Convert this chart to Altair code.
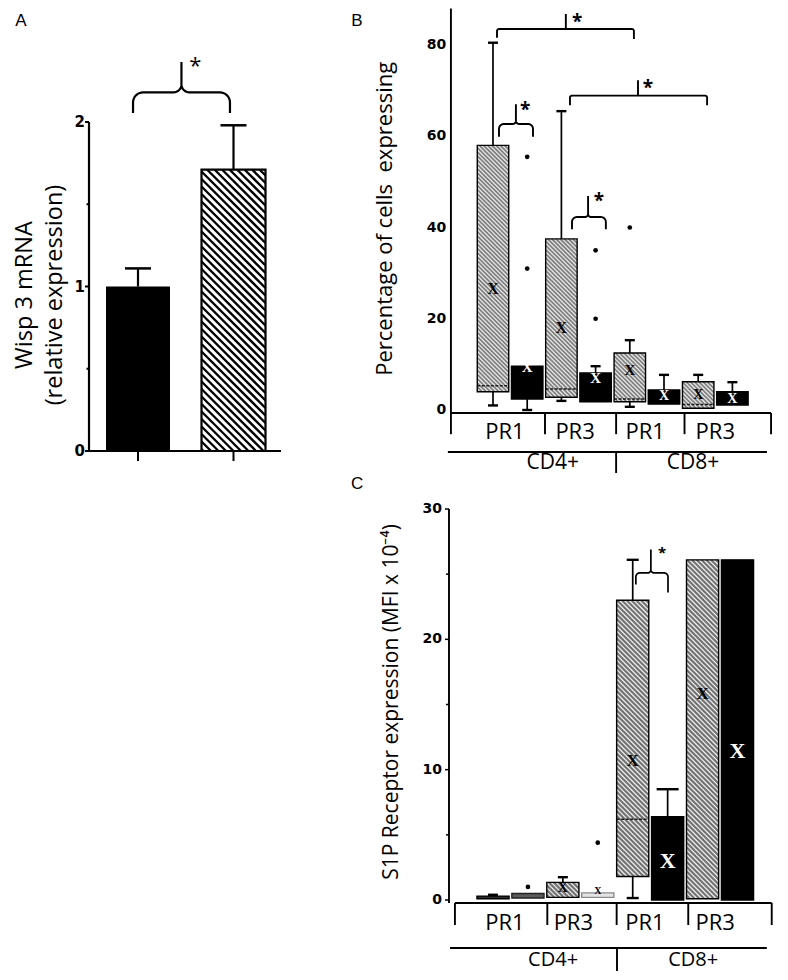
import math
import altair as alt
import pandas as pd

# ------------------------------------------------------------------ data
# Panel A : Wisp 3 mRNA, relative expression (mean + error)
A_BARS = ["solid", "hatched"]
A_VALUE = [1.0, 1.71]
A_ERROR = [0.11, 0.27]
A_TICKS = [0, 1, 2]

# Panels B and C : eight boxes = 4 groups (PR1/PR3 x CD4+/CD8+) x 2 conditions
SUBSETS = ["PR1", "PR3", "PR1", "PR3"]
CELLS = ["CD4+", "CD8+"]

B_TICKS = [0, 20, 40, 60, 80]
B_Q1 = [4.0, 2.4, 2.8, 1.8, 1.8, 1.3, 0.4, 1.1]
B_MEDIAN = [5.3, None, 4.6, None, 2.4, None, 1.2, None]
B_Q3 = [58.0, 9.6, 37.5, 8.1, 12.5, 4.4, 6.2, 4.0]
B_LOW = [1.0, 0.0, 2.0, 1.8, 0.7, 1.3, 0.4, 1.1]
B_HIGH = [80.5, 9.6, 65.5, 9.6, 15.3, 7.7, 7.7, 6.1]
B_MEAN = [26.5, 9.4, 18.0, 7.0, 8.8, 3.0, 3.2, 2.5]
B_OUT_BOX = [1, 1, 3, 3, 4]
B_OUT_VAL = [55.5, 31.0, 35.0, 20.0, 40.0]

C_TICKS = [0, 10, 20, 30]
C_Q1 = [0.1, 0.15, 0.2, 0.2, 1.8, 0.0, 0.1, 0.0]
C_MEDIAN = [None, None, None, None, 6.2, None, None, None]
C_Q3 = [0.3, 0.5, 1.35, 0.55, 23.0, 6.4, 26.1, 26.1]
C_LOW = [0.1, 0.15, 0.2, 0.2, 0.15, 0.0, 0.1, 0.0]
C_HIGH = [0.4, 0.5, 1.75, 0.55, 26.1, 8.5, 26.1, 26.1]
C_MEAN = [0.25, 0.4, 0.9, 0.7, 10.7, 3.0, 15.8, 11.4]
C_OUT_BOX = [1, 3]
C_OUT_VAL = [1.0, 4.4]

# ------------------------------------------------------------------ styles
FONT = "Open Sans"
TICKFONT = "DejaVu Sans"
SERIF = "Liberation Serif"
B_KINDS = ["hatched", "solid"] * 4
C_KINDS = ["dark", "mid", "hatched", "light", "hatched", "solid", "hatched", "solid"]
B_MEAN_SIZE = [16, 15, 16, 15, 15, 14, 14, 14]
C_MEAN_SIZE = [0, 0, 14, 10, 17, 22, 17, 22]
B_CAP = [5] * 8
C_CAP = [5, 5, 5, 5, 6, 11, 6, 6]


# ------------------------------------------------------------------ panel frames (scales)
class Frame:
    def __init__(self, xd, xr, yd, yr):
        self.xd, self.xr, self.yd, self.yr = xd, xr, yd, yr

    def px(self, u):
        return self.xr[0] + (u - self.xd[0]) * (self.xr[1] - self.xr[0]) / (self.xd[1] - self.xd[0])

    def py(self, v):
        return self.yr[0] + (v - self.yd[0]) * (self.yr[1] - self.yr[0]) / (self.yd[1] - self.yd[0])

    def ux(self, p):
        return self.xd[0] + (p - self.xr[0]) * (self.xd[1] - self.xd[0]) / (self.xr[1] - self.xr[0])

    def vy(self, p):
        return self.yd[0] + (p - self.yr[0]) * (self.yd[1] - self.yd[0]) / (self.yr[1] - self.yr[0])

    def dx(self, pix):
        return pix * (self.xd[1] - self.xd[0]) / (self.xr[1] - self.xr[0])

    def dy(self, pix):
        return pix * (self.yd[1] - self.yd[0]) / abs(self.yr[1] - self.yr[0])

    def X(self, field):
        return alt.X(f"{field}:Q", axis=None,
                     scale=alt.Scale(domain=self.xd, range=self.xr, nice=False, zero=False))

    def Y(self, field):
        return alt.Y(f"{field}:Q", axis=None,
                     scale=alt.Scale(domain=self.yd, range=self.yr, nice=False, zero=False))


FA = Frame([0, 3], [34.5, 321.0], [0, 2], [443.0, 114.0])
FB = Frame([0, 7], [485.0, 724.4], [0, 80], [402.0, 37.0])
FC = Frame([0, 7], [485.0, 729.5], [0, 30], [892.0, 501.0])

layers = []


def segs(f, rows, color="black", width=2.0, dash=None):
    if not rows:
        return
    kw = dict(color=color, strokeWidth=width)
    if dash:
        kw["strokeDash"] = dash
    layers.append(alt.Chart(pd.DataFrame(rows)).mark_rule(**kw).encode(
        x=f.X("x0"), x2="x1", y=f.Y("y0"), y2="y1"))


def texts(f, rows, **mk):
    mk.setdefault("font", FONT)
    mk.setdefault("baseline", "middle")
    layers.append(alt.Chart(pd.DataFrame(rows)).mark_text(**mk).encode(
        x=f.X("x"), y=f.Y("y"), text="t:N"))


def hatch(f, x0, x1, y0, y1, step):
    X0, X1 = f.px(x0), f.px(x1)
    YT, YB = f.py(y1), f.py(y0)
    out = []
    c = math.floor((YT - X1) / step) * step
    while c <= YB - X0:
        xa = max(X0, YT - c)
        xb = min(X1, YB - c)
        if xb - xa > 0.5:
            out.append(dict(x0=f.ux(xa), x1=f.ux(xb), y0=f.vy(xa + c), y1=f.vy(xb + c)))
        c += step
    return out


def brace(f, bid, xl, xr, xc, ybl, ybr, ym, yt, r, r2):
    XL, XR, XC = f.px(xl), f.px(xr), f.px(xc)
    YBL, YBR, YM, YT = f.py(ybl), f.py(ybr), f.py(ym), f.py(yt)

    def arc(cx, cy, rad, a0, a1, n=8):
        return [(cx + rad * math.cos(math.radians(a0 + (a1 - a0) * k / n)),
                 cy + rad * math.sin(math.radians(a0 + (a1 - a0) * k / n))) for k in range(n + 1)]

    pts = [(XL, YBL)]
    pts += arc(XL + r, YM + r, r, 180, 270)
    pts += arc(XC - r2, YM - r2, r2, 90, 0)
    pts.append((XC, YT))
    pts += arc(XC + r2, YM - r2, r2, 180, 90)
    pts += arc(XR - r, YM + r, r, 270, 360)
    pts.append((XR, YBR))
    return [dict(id=bid, k=i, x=f.ux(p[0]), y=f.vy(p[1])) for i, p in enumerate(pts)]


def brace_layer(f, rows, width):
    layers.append(alt.Chart(pd.DataFrame(rows)).mark_line(color="black", strokeWidth=width).encode(
        x=f.X("x"), y=f.Y("y"), detail="id:N", order="k:Q"))


# ------------------------------------------------------------------ panel A
hwA = 0.335
a_solid = pd.DataFrame([dict(x0=1 - hwA, x1=1 + hwA, y0=0, y1=A_VALUE[0])])
a_hatch = pd.DataFrame([dict(x0=2 - hwA, x1=2 + hwA, y0=0, y1=A_VALUE[1])])
layers.append(alt.Chart(a_solid).mark_rect(color="black").encode(
    x=FA.X("x0"), x2="x1", y=FA.Y("y0"), y2="y1"))
layers.append(alt.Chart(a_hatch).mark_rect(color="white").encode(
    x=FA.X("x0"), x2="x1", y=FA.Y("y0"), y2="y1"))
segs(FA, hatch(FA, 2 - hwA, 2 + hwA, 0, A_VALUE[1], 7.5), width=2.3)
layers.append(alt.Chart(a_hatch).mark_rect(fillOpacity=0, stroke="black", strokeWidth=2.2).encode(
    x=FA.X("x0"), x2="x1", y=FA.Y("y0"), y2="y1"))
# error bars
segs(FA, [dict(x0=i + 1, x1=i + 1, y0=A_VALUE[i], y1=A_VALUE[i] + A_ERROR[i]) for i in range(2)], width=2.2)
segs(FA, [dict(x0=i + 1 - FA.dx(13), x1=i + 1 + FA.dx(13), y0=A_VALUE[i] + A_ERROR[i],
               y1=A_VALUE[i] + A_ERROR[i]) for i in range(2)], width=2.5)
# axes
ax_a = 0.487
segs(FA, [dict(x0=ax_a, x1=ax_a, y0=0, y1=2),
          dict(x0=ax_a, x1=2.497, y0=0, y1=0)], width=2.2)
segs(FA, [dict(x0=ax_a - FA.dx(4), x1=ax_a, y0=t, y1=t) for t in A_TICKS]
     + [dict(x0=ax_a - FA.dx(2.5), x1=ax_a, y0=t + 0.5, y1=t + 0.5) for t in A_TICKS[:-1]]
     + [dict(x0=i + 1, x1=i + 1, y0=0, y1=-FA.dy(10)) for i in range(2)], width=2)
texts(FA, [dict(x=0.445, y=t, t=str(t)) for t in A_TICKS],
      font=TICKFONT, fontWeight="bold", fontSize=15, align="right")
# significance brace
brace_layer(FA, brace(FA, "a", 0.948, 1.963, 1.455, 2.055, 2.055, 2.18, 2.365, 10, 8), 2.2)
texts(FA, [dict(x=1.6, y=2.34, t="*")], fontSize=22, align="center")
# titles
texts(FA, [dict(x=-0.180, y=0.948, t="Wisp 3 mRNA"),
           dict(x=0.128, y=0.948, t="(relative expression)")],
      fontSize=23.5, angle=270, align="center")
texts(FA, [dict(x=-0.225, y=2.614, t="A")], fontSize=17, align="center",
      font="Liberation Sans Narrow, Liberation Sans")


# ------------------------------------------------------------------ box panels
def box_panel(f, kinds, q1, med, q3, lo, hi, mean, mean_size, out_box, out_val,
              step, bg, line_col, caps, hw=0.46):
    n = len(q1)
    fills = {"hatched": bg, "solid": "black", "dark": "#2e2e2e", "mid": "#5c5c5c", "light": "#e4e4e4"}
    strokes = {"hatched": "black", "solid": "black", "dark": "black", "mid": "#222222", "light": "#8a8a8a"}
    boxes = pd.DataFrame([dict(x0=i - hw, x1=i + hw, y0=q1[i], y1=q3[i],
                               fill=fills[kinds[i]], stroke=strokes[kinds[i]]) for i in range(n)])
    layers.append(alt.Chart(boxes).mark_rect(strokeWidth=0).encode(
        x=f.X("x0"), x2="x1", y=f.Y("y0"), y2="y1", fill=alt.Fill("fill:N", scale=None)))
    hrows = []
    for i in range(n):
        if kinds[i] == "hatched":
            hrows += hatch(f, i - hw, i + hw, q1[i], q3[i], step)
    segs(f, hrows, color=line_col, width=1.3)
    segs(f, [dict(x0=i - hw, x1=i + hw, y0=med[i], y1=med[i]) for i in range(n) if med[i] is not None],
         color="#1a1a1a", width=1.6, dash=[3, 1.5])
    layers.append(alt.Chart(boxes).mark_rect(fillOpacity=0, strokeWidth=1.4).encode(
        x=f.X("x0"), x2="x1", y=f.Y("y0"), y2="y1", stroke=alt.Stroke("stroke:N", scale=None)))
    wrows, crows = [], []
    for i in range(n):
        if hi[i] > q3[i]:
            wrows.append(dict(x0=i, x1=i, y0=q3[i], y1=hi[i]))
            crows.append(dict(x0=i - f.dx(caps[i]), x1=i + f.dx(caps[i]), y0=hi[i], y1=hi[i]))
        if lo[i] < q1[i]:
            wrows.append(dict(x0=i, x1=i, y0=lo[i], y1=q1[i]))
            crows.append(dict(x0=i - f.dx(caps[i]), x1=i + f.dx(caps[i]), y0=lo[i], y1=lo[i]))
    segs(f, wrows, width=1.7)
    segs(f, crows, width=2.4)
    mrows = [dict(x=i, y=mean[i], t="X", s=mean_size[i], c=("white" if kinds[i] == "solid" else "black"))
             for i in range(n) if mean_size[i] > 0]
    layers.append(alt.Chart(pd.DataFrame(mrows)).mark_text(
        font=SERIF, fontWeight="bold", baseline="middle", align="center").encode(
        x=f.X("x"), y=f.Y("y"), text="t:N", size=alt.Size("s:Q", scale=None),
        color=alt.Color("c:N", scale=None)))
    orows = [dict(x=b, y=v) for b, v in zip(out_box, out_val)]
    layers.append(alt.Chart(pd.DataFrame(orows)).mark_circle(size=22, color="black", opacity=1).encode(
        x=f.X("x"), y=f.Y("y")))


def cat_axis(f, yaxis_x, y_top, base, ticks_x, tick_bottom, label_x, label_y,
             line2_y, line2_x, div_x, div_bottom, cell_x, cell_y, tick_vals, ticklab_x,
             minor=None, cell_size=21):
    segs(f, [dict(x0=yaxis_x, x1=yaxis_x, y0=base, y1=y_top),
             dict(x0=ticks_x[0], x1=ticks_x[-1], y0=base, y1=base),
             dict(x0=line2_x[0], x1=line2_x[1], y0=line2_y, y1=line2_y),
             dict(x0=div_x, x1=div_x, y0=line2_y, y1=div_bottom)]
         + [dict(x0=t, x1=t, y0=base, y1=tick_bottom) for t in ticks_x], width=1.9)
    if minor:
        segs(f, [dict(x0=yaxis_x - f.dx(m[1]), x1=yaxis_x, y0=m[0], y1=m[0]) for m in minor], width=1.5)
    texts(f, [dict(x=lx, y=label_y, t=s) for lx, s in zip(label_x, SUBSETS)], fontSize=22, align="center")
    texts(f, [dict(x=cx, y=cell_y, t=s) for cx, s in zip(cell_x, CELLS)], fontSize=cell_size, align="center")
    texts(f, [dict(x=ticklab_x, y=t, t=str(t)) for t in tick_vals],
          font=TICKFONT, fontWeight="bold", fontSize=14, align="right")


# ------------------------------------------------------------------ panel B
box_panel(FB, B_KINDS, B_Q1, B_MEDIAN, B_Q3, B_LOW, B_HIGH, B_MEAN, B_MEAN_SIZE,
          B_OUT_BOX, B_OUT_VAL, 4.2, "#7e7e7e", "#e6e6e6", B_CAP)
cat_axis(FB, -1.23, 88, -0.65, [-1.23, 1.52, 3.6, 5.6, 8.13], -5.3,
         [0.35, 2.4, 4.45, 6.5], -4.75, -9.2, [-1.32, 8.01], 3.6, -13.8,
         [1.75, 5.85], -11.7, B_TICKS, -1.37)
b_br = (brace(FB, "b1", 0.117, 4.12, 2.13, 81.6, 81.3, 83.5, 86.8, 2, 0)
        + brace(FB, "b2", 2.25, 6.26, 4.24, 66.8, 66.8, 68.9, 72.3, 2, 0)
        + brace(FB, "b3", 0.175, 1.17, 0.67, 59.9, 59.9, 62.7, 67.0, 5, 3)
        + brace(FB, "b4", 2.31, 3.30, 2.78, 39.6, 39.6, 42.3, 46.9, 5, 3))
brace_layer(FB, b_br, 1.9)
texts(FB, [dict(x=2.46, y=85.0, t="*"), dict(x=4.53, y=70.6, t="*"),
           dict(x=0.94, y=65.8, t="*"), dict(x=3.1, y=45.9, t="*")],
      fontSize=19, fontWeight="bold", align="center")
texts(FB, [dict(x=-3.16, y=41.9, t="Percentage of cells\u00a0 expressing")],
      fontSize=22, angle=270, align="center")
texts(FB, [dict(x=-3.98, y=85.3, t="B")], fontSize=17, align="center",
      font="Liberation Sans Narrow, Liberation Sans")

# ------------------------------------------------------------------ panel C
box_panel(FC, C_KINDS, C_Q1, C_MEDIAN, C_Q3, C_LOW, C_HIGH, C_MEAN, C_MEAN_SIZE,
          C_OUT_BOX, C_OUT_VAL, 4.8, "#727272", "#ececec", C_CAP)
cat_axis(FC, -1.26, 30, -0.23, [-1.09, 1.555, 3.54, 5.59, 7.98], -1.92,
         [0.34, 2.30, 4.35, 6.36], -1.8, -3.68, [-1.23, 7.84], 3.55, -5.45,
         [1.72, 5.73], -4.62, C_TICKS, -1.46,
         minor=[(0, 4), (10, 4), (20, 4), (30, 4), (5, 3), (15, 3), (25, 3)], cell_size=20)
brace_layer(FC, brace(FC, "c1", 4.09, 5.01, 4.52, 24.2, 23.6, 25.1, 26.9, 4, 3), 1.7)
texts(FC, [dict(x=4.84, y=26.6, t="*")], fontSize=15, fontWeight="bold", align="center")
texts(FC, [dict(x=-2.9, y=15.2, t="S1P Receptor expression (MFI x 10\u207b\u2074)")],
      fontSize=21, angle=270, align="center")
texts(FC, [dict(x=-3.89, y=31.9, t="C")], fontSize=17, align="center",
      font="Liberation Sans Narrow, Liberation Sans")

# ------------------------------------------------------------------ assemble
chart = alt.layer(*layers).resolve_scale(x="independent", y="independent").properties(
    width=772, height=964, padding=0, autosize=alt.AutoSizeParams(type="none")
).configure_view(stroke="transparent")

chart.save("out.html", embed_options={"renderer": "svg", "actions": False})
